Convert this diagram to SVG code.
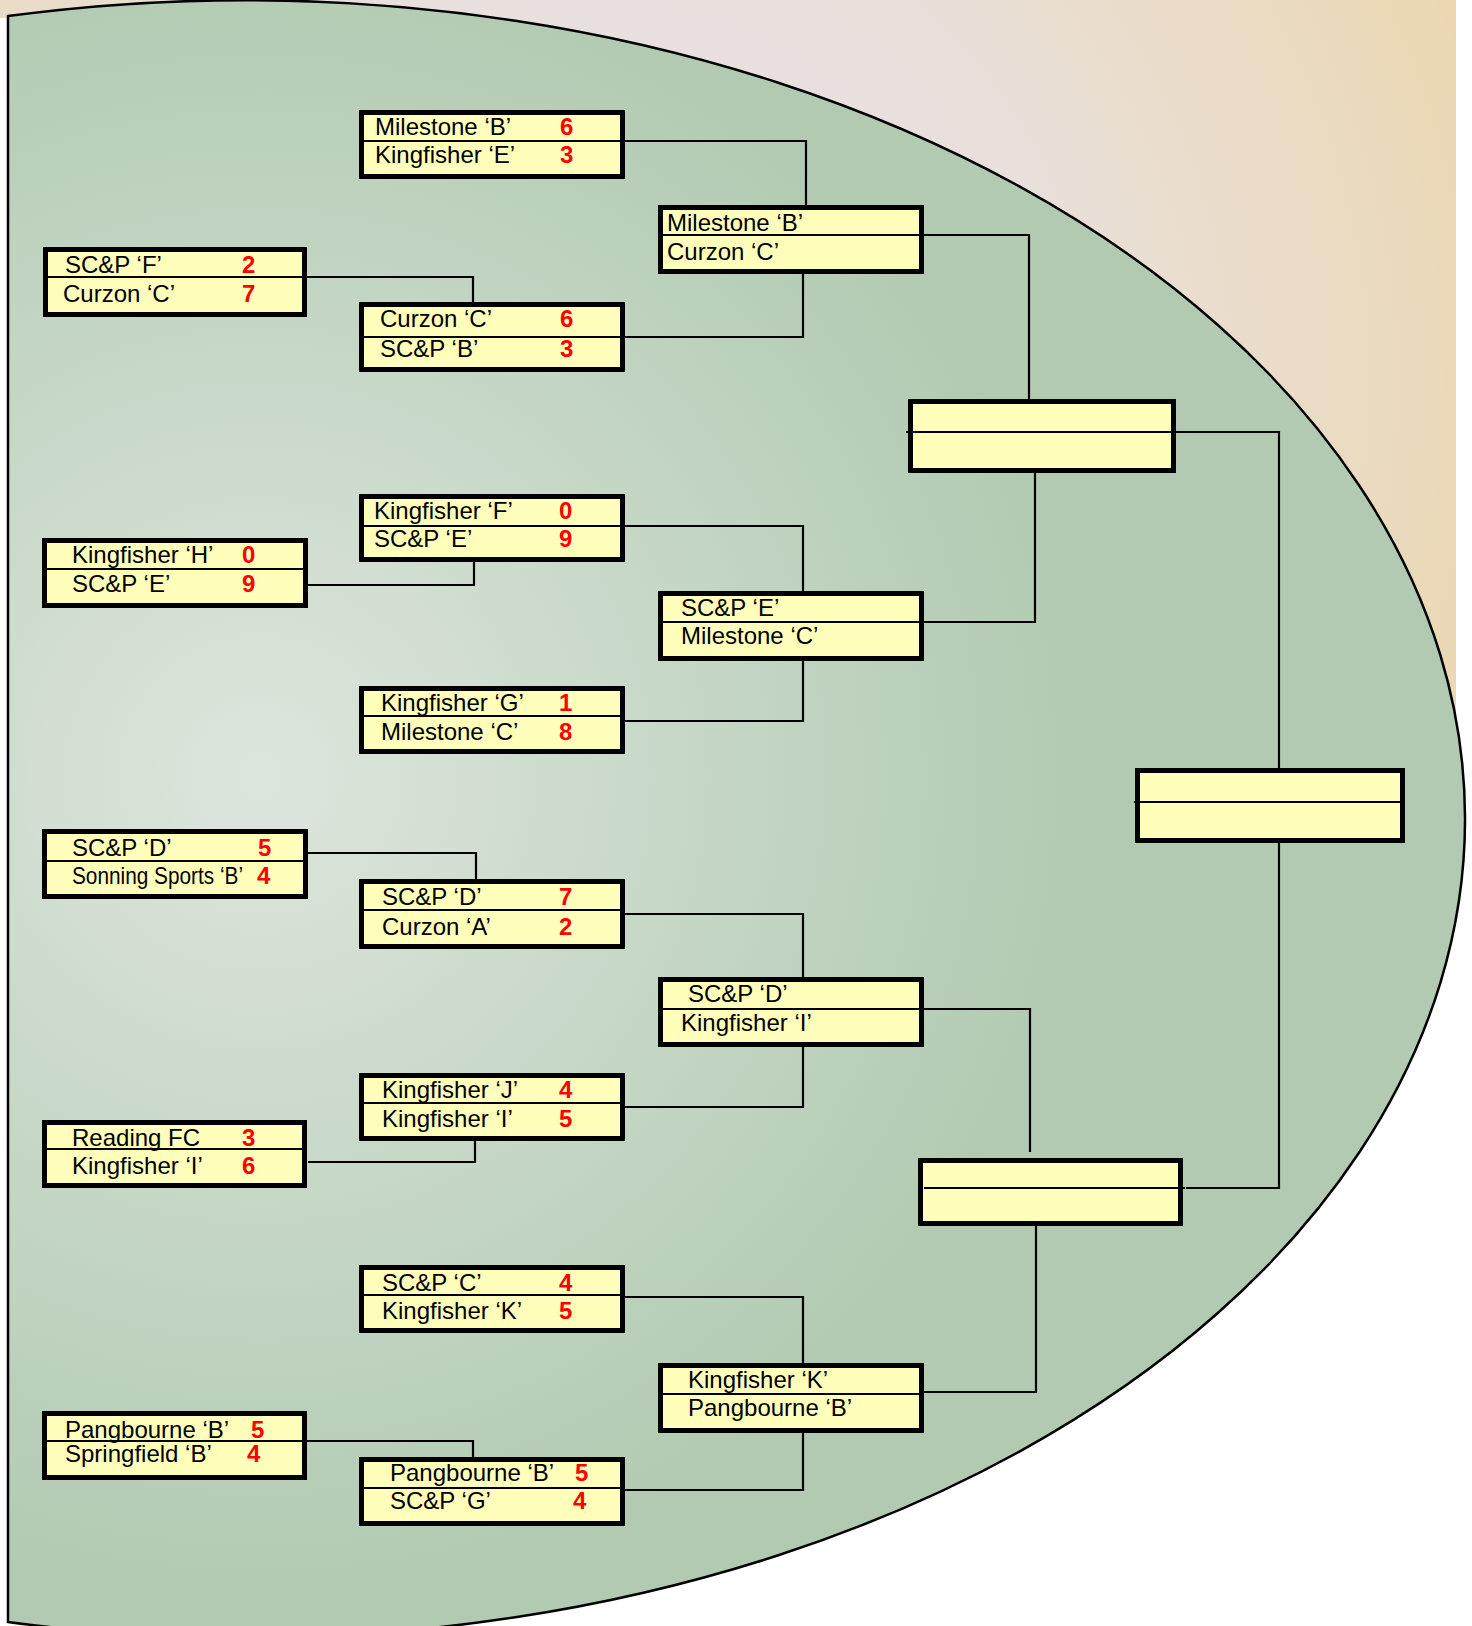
<svg xmlns="http://www.w3.org/2000/svg" width="1472" height="1626" viewBox="0 0 1472 1626">
<defs>
<radialGradient id="tan" gradientUnits="userSpaceOnUse" cx="600" cy="380" r="1000">
<stop offset="0" stop-color="#E6E1E6"/>
<stop offset="0.45" stop-color="#E9E0DC"/>
<stop offset="1" stop-color="#EBD6AC"/>
</radialGradient>
<radialGradient id="green" gradientUnits="userSpaceOnUse" cx="260" cy="775" r="820">
<stop offset="0" stop-color="#DDE6DD"/>
<stop offset="1" stop-color="#B2CAB2"/>
</radialGradient>
<style>
.box{fill:#FFFFBB;stroke:#000;stroke-width:5}
.dv{stroke:#000;stroke-width:2.2}
.t{font-family:"Liberation Sans",Arial,sans-serif;font-size:24px;fill:#000}
.n{font-family:"Liberation Sans",Arial,sans-serif;font-size:24px;font-weight:bold;fill:#FF0000}
#connectors path{fill:none;stroke:#000;stroke-width:2.2}
</style>
</defs>
<rect x="0" y="0" width="1472" height="1626" fill="#FFFFFF"/>
<rect x="0" y="0" width="1456" height="720" fill="url(#tan)"/>
<rect x="0" y="18" width="8" height="710" fill="#FFFFFF"/>
<path d="M8,16 A1220,818.6 0 1 1 8,1622 Z" fill="url(#green)" stroke="#000" stroke-width="2.5"/>

<g id="connectors">
<path d="M307,277 H473 V302"/>
<path d="M625,141 H806 V205"/>
<path d="M625,337 H803 V274"/>
<path d="M924,235 H1029 V399"/>
<path d="M308,585 H474 V562"/>
<path d="M625,526 H803 V591"/>
<path d="M625,721 H803 V661"/>
<path d="M924,622 H1035 V473"/>
<path d="M1176,432 H1279 V768"/>
<path d="M308,853 H476 V879"/>
<path d="M625,914 H803 V977"/>
<path d="M625,1107 H803 V1047"/>
<path d="M308,1162 H475 V1141"/>
<path d="M924,1009 H1030 V1152"/>
<path d="M625,1297 H803 V1363"/>
<path d="M625,1490 H803 V1433"/>
<path d="M307,1441 H473 V1457"/>
<path d="M924,1392 H1036 V1226"/>
<path d="M1186,1188 H1279 V843"/>
</g>

<g id="A1">
<rect class="box" x="45.5" y="249.5" width="259" height="65"/>
<line class="dv" x1="48" y1="277" x2="302" y2="277"/>
<text class="t" x="65" y="273">SC&amp;P ‘F’</text>
<text class="t" x="63" y="302">Curzon ‘C’</text>
<text class="n" x="242" y="273">2</text>
<text class="n" x="242" y="302">7</text>
</g>
<g id="A2">
<rect class="box" x="44.5" y="540.5" width="261" height="65"/>
<line class="dv" x1="47" y1="569" x2="303" y2="569"/>
<text class="t" x="72" y="563">Kingfisher ‘H’</text>
<text class="t" x="72" y="592">SC&amp;P ‘E’</text>
<text class="n" x="242" y="563">0</text>
<text class="n" x="242" y="592">9</text>
</g>
<g id="A3">
<rect class="box" x="44.5" y="831.5" width="261" height="65"/>
<line class="dv" x1="47" y1="861" x2="303" y2="861"/>
<text class="t" x="72" y="856">SC&amp;P ‘D’</text>
<text class="t" x="72" y="884" textLength="171" lengthAdjust="spacingAndGlyphs">Sonning Sports ‘B’</text>
<text class="n" x="258" y="856">5</text>
<text class="n" x="257" y="884">4</text>
</g>
<g id="A4">
<rect class="box" x="44.5" y="1122.5" width="260" height="63"/>
<line class="dv" x1="47" y1="1149" x2="302" y2="1149"/>
<text class="t" x="72" y="1146">Reading FC</text>
<text class="t" x="72" y="1174">Kingfisher ‘I’</text>
<text class="n" x="242" y="1146">3</text>
<text class="n" x="242" y="1174">6</text>
</g>
<g id="A5">
<rect class="box" x="44.5" y="1413.5" width="260" height="64"/>
<line class="dv" x1="47" y1="1441" x2="302" y2="1441"/>
<text class="t" x="65" y="1438">Pangbourne ‘B’</text>
<text class="t" x="65" y="1462">Springfield ‘B’</text>
<text class="n" x="251" y="1438">5</text>
<text class="n" x="247" y="1462">4</text>
</g>

<g id="B1">
<rect class="box" x="361.5" y="112.5" width="261" height="64"/>
<line class="dv" x1="364" y1="141" x2="620" y2="141"/>
<text class="t" x="375" y="135">Milestone ‘B’</text>
<text class="t" x="375" y="163">Kingfisher ‘E’</text>
<text class="n" x="560" y="135">6</text>
<text class="n" x="560" y="163">3</text>
</g>
<g id="B2">
<rect class="box" x="361.5" y="304.5" width="261" height="65"/>
<line class="dv" x1="364" y1="337" x2="620" y2="337"/>
<text class="t" x="380" y="327">Curzon ‘C’</text>
<text class="t" x="380" y="357">SC&amp;P ‘B’</text>
<text class="n" x="560" y="327">6</text>
<text class="n" x="560" y="357">3</text>
</g>
<g id="B3">
<rect class="box" x="361.5" y="496.5" width="261" height="63"/>
<line class="dv" x1="364" y1="526" x2="620" y2="526"/>
<text class="t" x="374" y="519">Kingfisher ‘F’</text>
<text class="t" x="374" y="547">SC&amp;P ‘E’</text>
<text class="n" x="559" y="519">0</text>
<text class="n" x="559" y="547">9</text>
</g>
<g id="B4">
<rect class="box" x="361.5" y="688.5" width="261" height="63"/>
<line class="dv" x1="364" y1="716" x2="620" y2="716"/>
<text class="t" x="381" y="711">Kingfisher ‘G’</text>
<text class="t" x="381" y="740">Milestone ‘C’</text>
<text class="n" x="559" y="711">1</text>
<text class="n" x="559" y="740">8</text>
</g>
<g id="B5">
<rect class="box" x="361.5" y="881.5" width="261" height="65"/>
<line class="dv" x1="364" y1="910" x2="620" y2="910"/>
<text class="t" x="382" y="905">SC&amp;P ‘D’</text>
<text class="t" x="382" y="935">Curzon ‘A’</text>
<text class="n" x="559" y="905">7</text>
<text class="n" x="559" y="935">2</text>
</g>
<g id="B6">
<rect class="box" x="361.5" y="1075.5" width="261" height="63"/>
<line class="dv" x1="364" y1="1103" x2="620" y2="1103"/>
<text class="t" x="382" y="1098">Kingfisher ‘J’</text>
<text class="t" x="382" y="1127">Kingfisher ‘I’</text>
<text class="n" x="559" y="1098">4</text>
<text class="n" x="559" y="1127">5</text>
</g>
<g id="B7">
<rect class="box" x="361.5" y="1267.5" width="261" height="63"/>
<line class="dv" x1="364" y1="1295" x2="620" y2="1295"/>
<text class="t" x="382" y="1291">SC&amp;P ‘C’</text>
<text class="t" x="382" y="1319">Kingfisher ‘K’</text>
<text class="n" x="559" y="1291">4</text>
<text class="n" x="559" y="1319">5</text>
</g>
<g id="B8">
<rect class="box" x="361.5" y="1459.5" width="261" height="64"/>
<line class="dv" x1="364" y1="1488" x2="620" y2="1488"/>
<text class="t" x="390" y="1481">Pangbourne ‘B’</text>
<text class="t" x="390" y="1509">SC&amp;P ‘G’</text>
<text class="n" x="575" y="1481">5</text>
<text class="n" x="573" y="1509">4</text>
</g>

<g id="C1">
<rect class="box" x="660.5" y="207.5" width="261" height="64"/>
<line class="dv" x1="663" y1="235" x2="919" y2="235"/>
<text class="t" x="667" y="231">Milestone ‘B’</text>
<text class="t" x="667" y="260">Curzon ‘C’</text>
</g>
<g id="C2">
<rect class="box" x="660.5" y="593.5" width="261" height="65"/>
<line class="dv" x1="663" y1="622" x2="919" y2="622"/>
<text class="t" x="681" y="616">SC&amp;P ‘E’</text>
<text class="t" x="681" y="644">Milestone ‘C’</text>
</g>
<g id="C3">
<rect class="box" x="660.5" y="979.5" width="261" height="65"/>
<line class="dv" x1="663" y1="1009" x2="919" y2="1009"/>
<text class="t" x="688" y="1002">SC&amp;P ‘D’</text>
<text class="t" x="681" y="1031">Kingfisher ‘I’</text>
</g>
<g id="C4">
<rect class="box" x="660.5" y="1365.5" width="261" height="65"/>
<line class="dv" x1="663" y1="1394" x2="919" y2="1394"/>
<text class="t" x="688" y="1388">Kingfisher ‘K’</text>
<text class="t" x="688" y="1416">Pangbourne ‘B’</text>
</g>

<g id="D1">
<rect class="box" x="910.5" y="401.5" width="263" height="69"/>
<line class="dv" x1="906" y1="432" x2="1171" y2="432"/>
</g>
<g id="D2">
<rect class="box" x="920.5" y="1160.5" width="260" height="63"/>
<line class="dv" x1="924" y1="1188" x2="1185" y2="1188"/>
</g>
<g id="E1">
<rect class="box" x="1137.5" y="770.5" width="265" height="70"/>
<line class="dv" x1="1134" y1="802" x2="1400" y2="802"/>
</g>
</svg>
